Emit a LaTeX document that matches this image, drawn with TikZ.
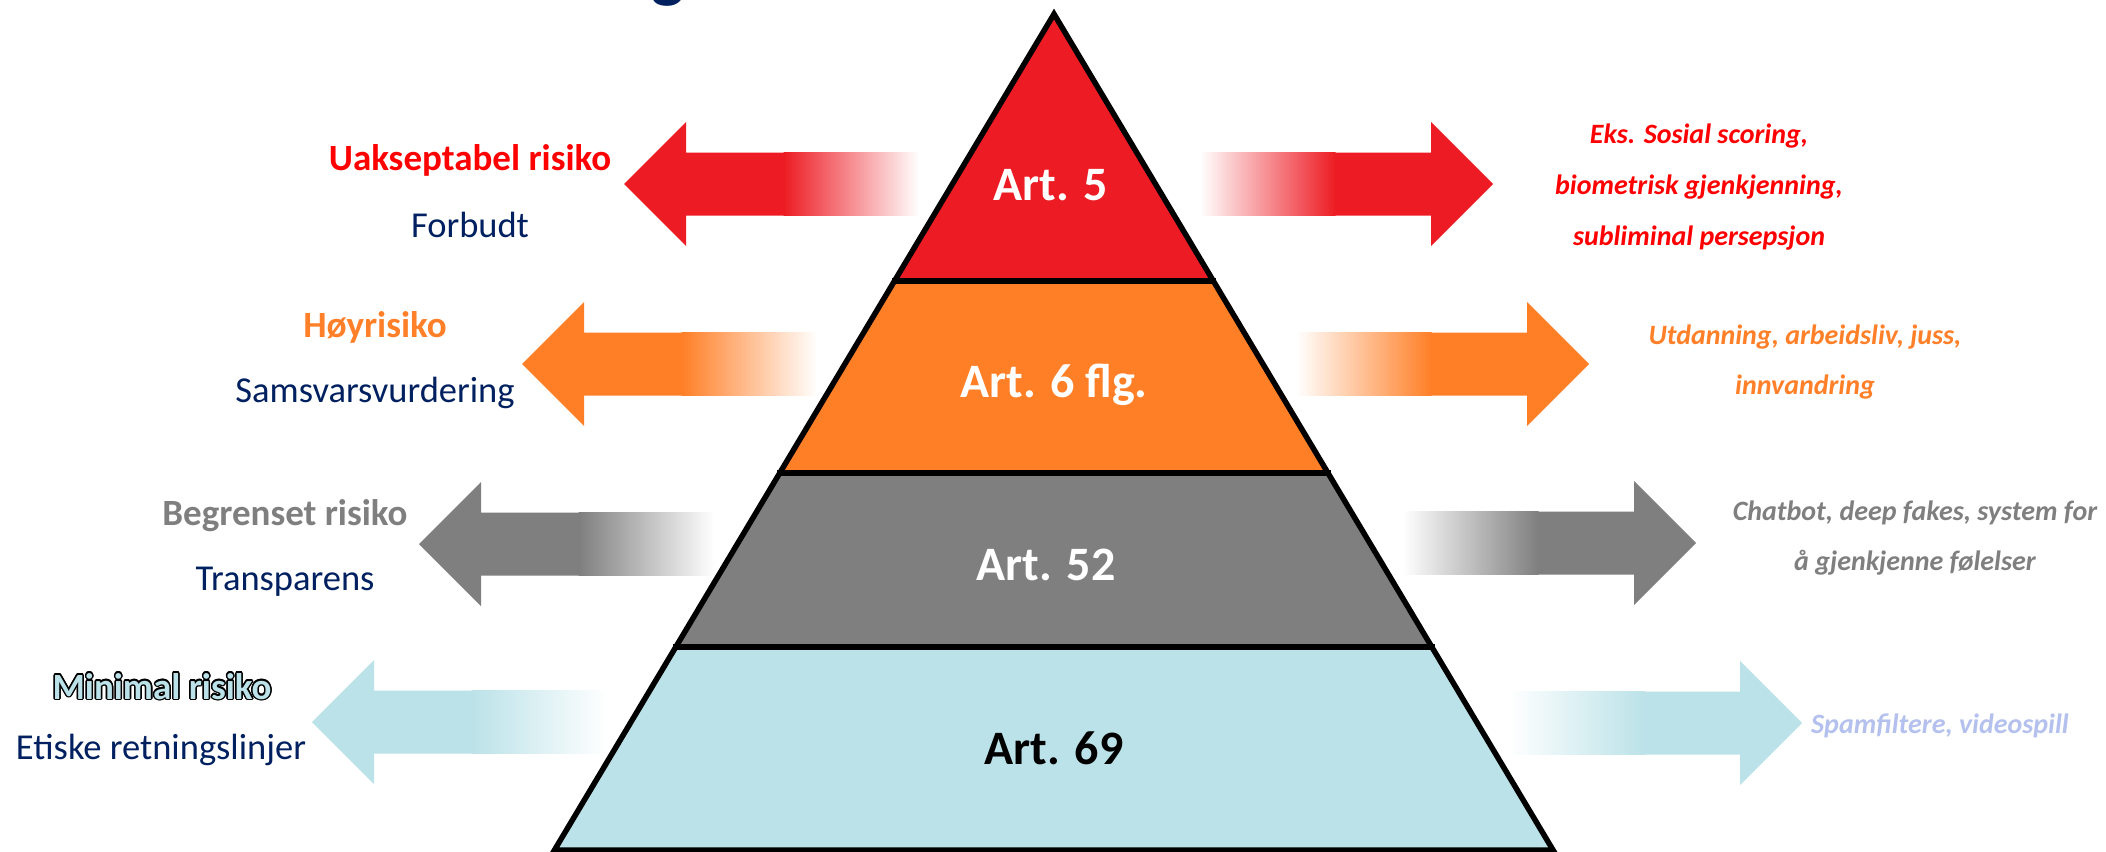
\documentclass[tikz,border=0pt]{standalone}
\usepackage{fontspec}
\setmainfont{Carlito}
\usetikzlibrary{calc}
\definecolor{cred}{RGB}{237,28,36}
\definecolor{corange}{RGB}{255,127,39}
\definecolor{cgray}{RGB}{127,127,127}
\definecolor{cblue}{RGB}{187,226,232}
\definecolor{tred}{RGB}{255,0,0}
\definecolor{torange}{RGB}{255,128,40}
\definecolor{navy}{RGB}{0,32,96}
\definecolor{tlav}{RGB}{180,192,238}
\newcommand{\LArr}[3]{%
  \fill[#1] (#2,#3) -- ++(62,-62) -- ++(0,30.5) -- ++(98,0) -- ++(0,63) -- ++(-98,0) -- ++(0,30.5) -- cycle;
  \shade[left color=#1, right color=white] (#2+159.5,#3-31.5) rectangle (#2+295,#3+31.5);
}
\newcommand{\RArr}[3]{%
  \fill[#1] (#2,#3) -- ++(-62,-62) -- ++(0,30.5) -- ++(-96,0) -- ++(0,63) -- ++(96,0) -- ++(0,30.5) -- cycle;
  \shade[left color=white, right color=#1] (#2-293,#3-31.5) rectangle (#2-157.5,#3+31.5);
}
\tikzset{
  lab/.style={font=\fontsize{36.5bp}{40bp}\selectfont, anchor=base, inner sep=0pt},
  labb/.style={font=\fontsize{37bp}{40bp}\selectfont\bfseries, anchor=base, inner sep=0pt},
  rt/.style={font=\fontsize{28bp}{30bp}\selectfont\bfseries\itshape, anchor=base, inner sep=0pt},
  art/.style={font=\fontsize{48bp}{50bp}\selectfont\bfseries, anchor=base, inner sep=0pt},
  band/.style={line width=5.5bp, line join=miter, line cap=rect}
}
\begin{document}
\begin{tikzpicture}[x=1bp, y=-1bp]
\useasboundingbox (0,0) rectangle (2106,852);
\clip (0,0) rectangle (2106,852);
\fill[white] (0,0) rectangle (2106,852);
% title fragment (cut off at the top edge, as in the reference)
\node[font=\fontsize{70bp}{70bp}\selectfont\bfseries, text=navy, anchor=base, inner sep=0pt] (g) at (668,-5) {g};
% pyramid
\coordinate (A) at (1054,14);
\coordinate (BL) at (554.5,850);
\coordinate (BR) at (1553,850);
\coordinate (L1) at ($(A)!{(281-14)/836}!(BL)$);
\coordinate (R1) at ($(A)!{(281-14)/836}!(BR)$);
\coordinate (L2) at ($(A)!{(473-14)/836}!(BL)$);
\coordinate (R2) at ($(A)!{(473-14)/836}!(BR)$);
\coordinate (L3) at ($(A)!{(647-14)/836}!(BL)$);
\coordinate (R3) at ($(A)!{(647-14)/836}!(BR)$);
\fill[cred] (A) -- (L1) -- (R1) -- cycle;
\fill[corange] (L1) -- (L2) -- (R2) -- (R1) -- cycle;
\fill[cgray] (L2) -- (L3) -- (R3) -- (R2) -- cycle;
\fill[cblue] (L3) -- (BL) -- (BR) -- (R3) -- cycle;
\draw[band] (L1) -- (R1);
\draw[band] (L2) -- (R2);
\draw[band] (L3) -- (R3);
\draw[band] (A) -- (BL) -- (BR) -- cycle;
\node[art, text=white] (a5) at (1051,200.5) {Art. 5};
\node[art, text=white] (a6) at (1054,397) {Art. 6 flg.};
\node[art, text=white] (a52) at (1046,580) {Art. 52};
\node[art, text=black] (a69) at (1054,764) {Art. 69};
% arrows
\LArr{cred}{624}{184}
\LArr{corange}{522}{364}
\LArr{cgray}{419}{544}
\LArr{cblue}{312}{722}
\RArr{cred}{1493}{184}
\RArr{corange}{1589}{364}
\RArr{cgray}{1696}{543}
\RArr{cblue}{1802}{723}
% left labels
\node[labb, text=tred] (u1) at (470,170) {Uakseptabel risiko};
\node[lab, text=navy] (u2) at (470,237) {Forbudt};
\node[labb, text=torange] (h1) at (375,337) {Høyrisiko};
\node[lab, text=navy] (h2) at (375,402) {Samsvarsvurdering};
\node[labb, text=cgray] (b1) at (285,525) {Begrenset risiko};
\node[lab, text=navy] (b2) at (285,590) {Transparens};
\foreach \a [count=\i] in {0,30,...,330}
  \node[labb, text=black] (mo\i) at ($(162,699)+(\a:1.5)$) {Minimal risiko};
\node[labb, text=cblue] (m1) at (162,699) {Minimal risiko};
\node[lab, text=navy] (m2) at (161,759) {Etiske retningslinjer};
% right texts
\node[rt, text=tred] (r1) at (1699,143) {Eks. Sosial scoring,};
\node[rt, text=tred] (r2) at (1699,194) {biometrisk gjenkjenning,};
\node[rt, text=tred] (r3) at (1699,245) {subliminal persepsjon};
\node[rt, text=torange] (o1) at (1805,344) {Utdanning, arbeidsliv, juss,};
\node[rt, text=torange] (o2) at (1805,394) {innvandring};
\node[rt, text=cgray] (c1) at (1915,520) {Chatbot, deep fakes, system for};
\node[rt, text=cgray] (c2) at (1915,570) {å gjenkjenne følelser};
\node[rt, text=tlav] (s1) at (1940,733) {Spamfiltere, videospill};
\end{tikzpicture}
\end{document}
